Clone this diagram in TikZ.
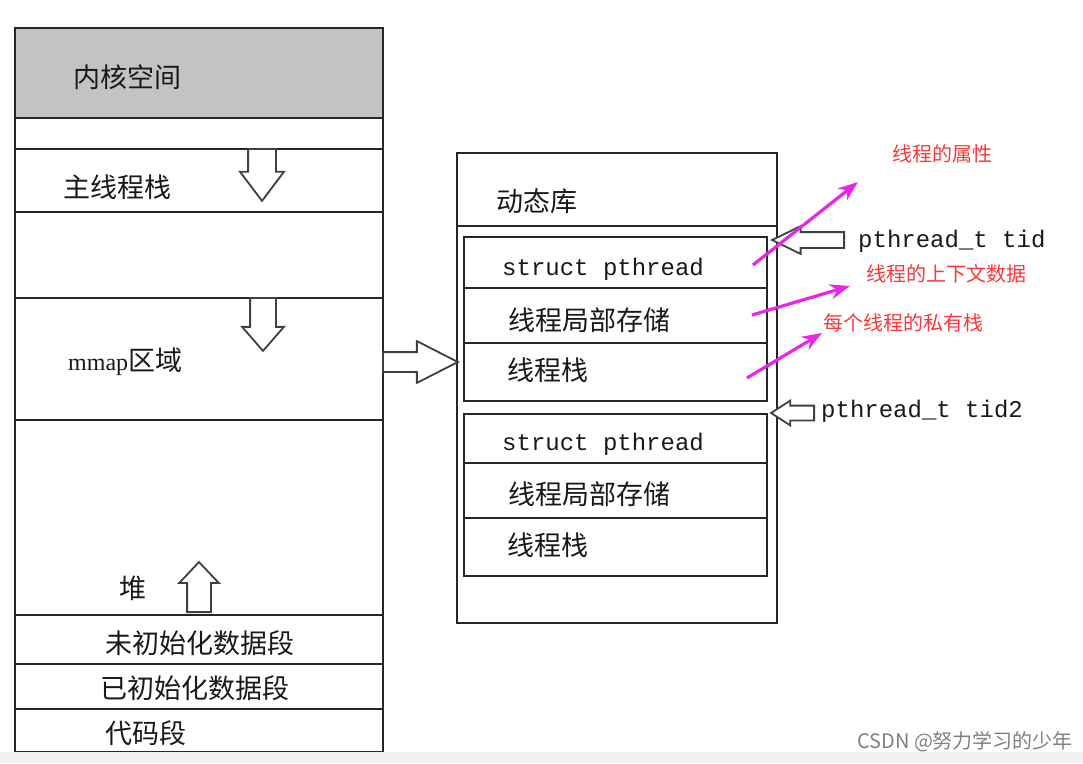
\documentclass[tikz,border=0pt]{standalone}
\usepackage{fontspec}
\setmainfont{Noto Sans CJK SC}
\newfontfamily\codefont{Liberation Mono}
\newfontfamily\romanfont{Liberation Serif}
\usetikzlibrary{shapes.arrows,arrows.meta}
\pgfdeclarelayer{edgelayer}
\pgfdeclarelayer{nodelayer}
\pgfsetlayers{edgelayer,nodelayer,main}
\definecolor{kernelgray}{RGB}{195,195,195}
\definecolor{callout}{RGB}{232,38,232}
\definecolor{notered}{RGB}{250,55,55}
\tikzstyle{segment}=[rectangle, draw=black!85, line width=1.6pt, fill=white, anchor=north west, inner sep=0pt]
\tikzstyle{label}=[anchor=west, inner sep=0pt, font=\fontsize{27}{30}\selectfont, text=black!90]
\tikzstyle{code}=[anchor=west, inner sep=0pt, font=\codefont\fontsize{24}{28}\selectfont, text=black!90]
\tikzstyle{note}=[anchor=west, inner sep=0pt, font=\fontsize{20}{24}\selectfont, text=notered]
\tikzstyle{hollow}=[single arrow, draw=black!75, fill=white, line width=1.8pt, inner sep=0pt, anchor=tail]
\tikzstyle{pointer}=[draw=callout, line width=3.2pt, -{Stealth[length=20pt,width=15pt]}]

\begin{document}
\begin{tikzpicture}[x=1pt,y=-1pt]
			\useasboundingbox (0,0) rectangle (1083,763);
			\fill [black!6] (0,752) rectangle (1083,763);
			\begin{pgfonlayer}{edgelayer}
			% process address space
			\node [style=segment, fill=kernelgray, minimum width=368, minimum height=90] (0) at (14,27) {};
			\node [style=segment, minimum width=368, minimum height=31] (1) at (14,117) {};
			\node [style=segment, minimum width=368, minimum height=63] (2) at (14,148) {};
			\node [style=segment, minimum width=368, minimum height=86] (3) at (14,211) {};
			\node [style=segment, minimum width=368, minimum height=122] (4) at (14,297) {};
			\node [style=segment, minimum width=368, minimum height=195] (5) at (14,419) {};
			\node [style=segment, minimum width=368, minimum height=49] (6) at (14,614) {};
			\node [style=segment, minimum width=368, minimum height=45] (7) at (14,663) {};
			\node [style=segment, minimum width=368, minimum height=43] (8) at (14,708) {};
			% shared library
			\node [style=segment, minimum width=320, minimum height=470] (10) at (456,152) {};
			\node [style=segment, minimum width=320, minimum height=73] (11) at (456,152) {};
			\node [style=segment, minimum width=303, minimum height=51] (12) at (463,236) {};
			\node [style=segment, minimum width=303, minimum height=55] (13) at (463,287) {};
			\node [style=segment, minimum width=303, minimum height=58] (14) at (463,342) {};
			\node [style=segment, minimum width=303, minimum height=49] (15) at (463,413) {};
			\node [style=segment, minimum width=303, minimum height=55] (16) at (463,462) {};
			\node [style=segment, minimum width=303, minimum height=58] (17) at (463,517) {};
			\end{pgfonlayer}
			\begin{pgfonlayer}{nodelayer}
			\node [style=label] (20) at (73,77) {内核空间};
			\node [style=label] (21) at (63,187) {主线程栈};
			\node [style=label] (22) at (68,362) {{\romanfont\fontsize{24}{28}\selectfont mmap}区域};
			\node [style=label] (23) at (119,588) {堆};
			\node [style=label] (24) at (105,643) {未初始化数据段};
			\node [style=label] (25) at (100,688) {已初始化数据段};
			\node [style=label] (26) at (105,733) {代码段};
			\node [style=label] (30) at (496,201) {动态库};
			\node [style=code] (31) at (502,269) {struct pthread};
			\node [style=label] (32) at (508,320) {线程局部存储};
			\node [style=label] (33) at (507,370) {线程栈};
			\node [style=code] (34) at (502,444) {struct pthread};
			\node [style=label] (35) at (508,494) {线程局部存储};
			\node [style=label] (36) at (507,545) {线程栈};
			\node [style=code] (40) at (858,241) {pthread\_t tid};
			\node [style=code] (41) at (821,411) {pthread\_t tid2};
			\node [style=note] (42) at (892,154) {线程的属性};
			\node [style=note] (43) at (866,274) {线程的上下文数据};
			\node [style=note] (44) at (823,323) {每个线程的私有栈};
			\node [anchor=west, inner sep=0pt, font=\fontsize{20}{24}\selectfont, text=black!50] (45) at (857,742) {CSDN @努力学习的少年};
			% growth and reference arrows
			\node [style=hollow, shape border rotate=270, minimum height=52, minimum width=42, inner xsep=13, single arrow head extend=8, single arrow tip angle=74] (50) at (262,148) {};
			\node [style=hollow, shape border rotate=270, minimum height=53, minimum width=40, inner xsep=12, single arrow head extend=8, single arrow tip angle=82] (51) at (263,297) {};
			\node [style=hollow, shape border rotate=90, minimum height=50, minimum width=38, inner xsep=11, single arrow head extend=8, single arrow tip angle=87] (52) at (199,613) {};
			\node [style=hollow, minimum height=75, minimum width=41, inner ysep=9, single arrow head extend=11, single arrow tip angle=54] (53) at (382,362) {};
			\node [style=hollow, shape border rotate=180, minimum height=72, minimum width=26, inner ysep=7, single arrow head extend=6, single arrow tip angle=52] (54) at (845,240) {};
			\node [style=hollow, shape border rotate=180, minimum height=43, minimum width=23, inner ysep=6.5, single arrow head extend=5, single arrow tip angle=66] (55) at (815,413) {};
			\end{pgfonlayer}
			\coordinate (60) at (753,265);
			\coordinate (61) at (858,182);
			\coordinate (62) at (752,315);
			\coordinate (63) at (850,286);
			\coordinate (64) at (747,378);
			\coordinate (65) at (822,333);
			\draw [style=pointer] (60) to (61);
			\draw [style=pointer] (62) to (63);
			\draw [style=pointer] (64) to (65);
\end{tikzpicture}
\end{document}
